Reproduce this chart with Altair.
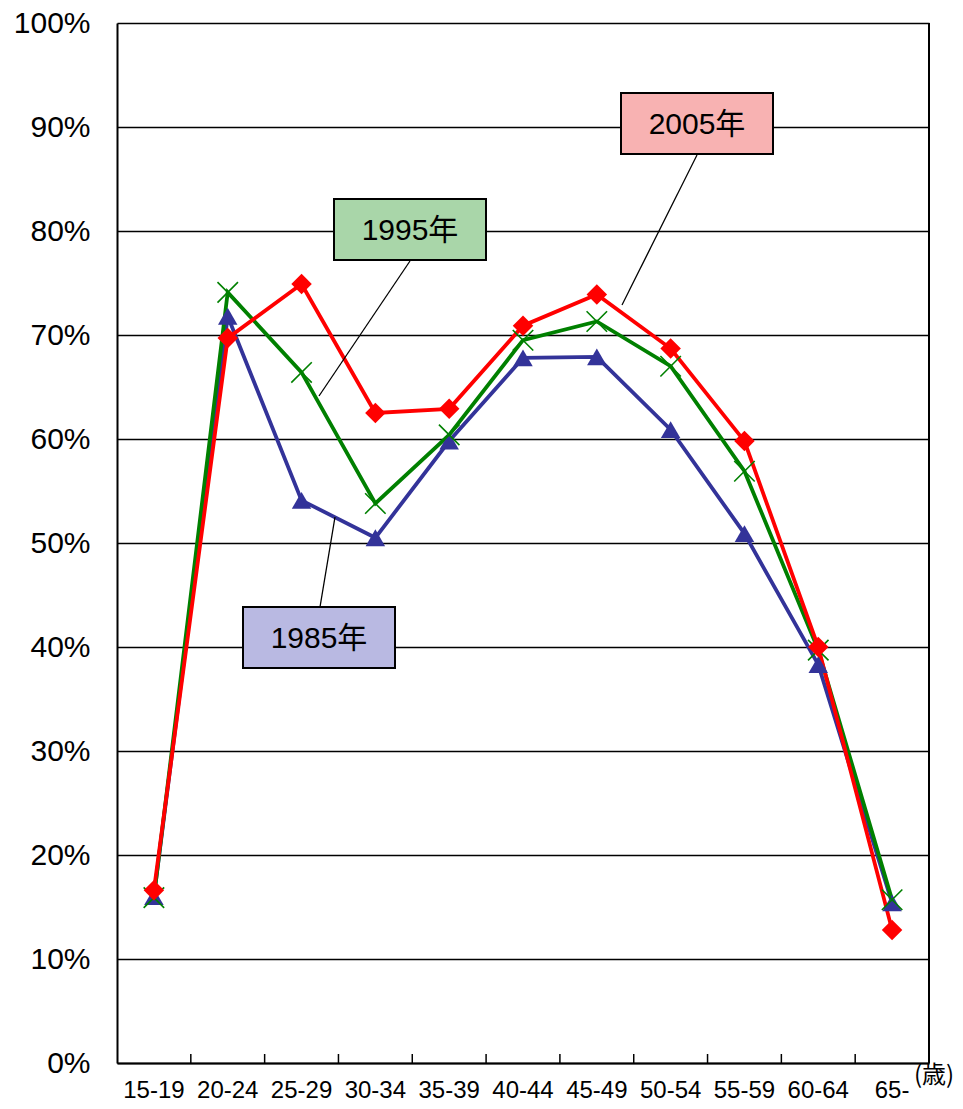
import altair as alt
import pandas as pd

FONT = "Liberation Sans, Arial, Noto Sans CJK JP"

ages = ["15-19", "20-24", "25-29", "30-34", "35-39", "40-44",
        "45-49", "50-54", "55-59", "60-64", "65-"]
years = ["1985年", "1995年", "2005年"]
rate_1985 = [16.0, 71.8, 54.1, 50.5, 59.8, 67.8, 67.9, 60.9, 50.9, 38.3, 15.4]
rate_1995 = [15.9, 74.1, 66.4, 53.8, 60.4, 69.5, 71.3, 67.0, 56.9, 39.7, 15.7]
rate_2005 = [16.6, 69.7, 74.9, 62.5, 62.9, 70.9, 73.9, 68.7, 59.8, 40.0, 12.8]
y_ticks = list(range(0, 101, 10))

rows = []
for yr, vals in zip(years, [rate_1985, rate_1995, rate_2005]):
    for a, v in zip(ages, vals):
        rows.append({"age": a, "year": yr, "rate": v})
df = pd.DataFrame(rows)

xscale = alt.Scale(type="band", domain=ages, paddingInner=0, paddingOuter=0)
xaxis = alt.Axis(title=None, ticks=False, labelFontSize=24, labelFont=FONT,
                 labelColor="black", labelPadding=15, domainColor="black",
                 domainWidth=2, labelAngle=0, grid=False, labelOverlap=False)
yscale = alt.Scale(domain=[0, 100], nice=False)
yaxis = alt.Axis(title=None, values=y_ticks, labelExpr="datum.value + '%'",
                 ticks=False, labelPadding=27, labelFontSize=30, labelFont=FONT,
                 labelColor="black", domainColor="black", domainWidth=2,
                 grid=True, gridColor="black", gridWidth=1.5, gridOpacity=1)

X = alt.X("age:N", scale=xscale, axis=xaxis, sort=ages, bandPosition=0.5)
Y = alt.Y("rate:Q", scale=yscale, axis=yaxis)

colors = {"1985年": "#333399", "1995年": "#008000", "2005年": "#FF0000"}

layers = []
one = pd.DataFrame({"k": [0]})

# x-axis ticks at category boundaries (pointing inward)
tick_df = pd.DataFrame({"age": ages[1:]})
layers.append(
    alt.Chart(tick_df).mark_rule(color="black", strokeWidth=1.5).encode(
        x=alt.X("age:N", scale=xscale, axis=xaxis, sort=ages, bandPosition=0),
        y=alt.value(1031), y2=alt.value(1040))
)
# right frame edge
layers.append(alt.Chart(one).mark_rule(color="black", strokeWidth=2).encode(
    x=alt.value(812), y=alt.value(0), y2=alt.value(1040)))

for yr in years:
    sub = df[df.year == yr]
    c = colors[yr]
    layers.append(alt.Chart(sub).mark_line(color=c, strokeWidth=3.8).encode(x=X, y=Y))

for yr in years:
    sub = df[df.year == yr]
    c = colors[yr]
    if yr == "1985年":
        m = alt.Chart(sub).mark_point(shape="triangle-up", filled=True, color=c,
                                      size=380, opacity=1)
    elif yr == "1995年":
        m = alt.Chart(sub).mark_point(shape="M-1,-1L1,1M-1,1L1,-1", filled=False,
                                      color=c, strokeWidth=1.6, size=420, opacity=1)
    else:
        m = alt.Chart(sub).mark_point(shape="diamond", filled=True, color=c,
                                      size=420, opacity=1)
    layers.append(m.encode(x=X, y=Y))

# leader lines
leaders = [
    (218, 494, 203, 584),   # 1985
    (293, 238, 202, 373),   # 1995
    (580, 132, 505, 282),   # 2005
]
for (x1, y1, x2, y2) in leaders:
    layers.append(alt.Chart(one).mark_rule(color="black", strokeWidth=1.3).encode(
        x=alt.value(x1), y=alt.value(y1), x2=alt.value(x2), y2=alt.value(y2)))

# label boxes
box_fill = {"1985年": "#B9B9E2", "1995年": "#A9D6A9", "2005年": "#F8B2B2"}
boxes = {
    "1985年": (126, 278, 584, 645),
    "1995年": (217, 369, 176, 237),
    "2005年": (504, 656, 70, 131),
}
for yr in years:
    x1, x2, y1, y2 = boxes[yr]
    layers.append(alt.Chart(one).mark_rect(fill=box_fill[yr], stroke="black",
                                           strokeWidth=2).encode(
        x=alt.value(x1), x2=alt.value(x2), y=alt.value(y1), y2=alt.value(y2)))
    layers.append(alt.Chart(pd.DataFrame({"t": [yr]})).mark_text(
        font=FONT, fontSize=30, color="black", align="center",
        baseline="middle").encode(
        text="t:N", x=alt.value((x1 + x2) / 2), y=alt.value((y1 + y2) / 2 + 1)))

# unit label
layers.append(alt.Chart(pd.DataFrame({"t": ["(歳)"]})).mark_text(
    font="Noto Sans CJK JP", fontSize=24, color="black", align="center",
    baseline="middle").encode(text="t:N", x=alt.value(817), y=alt.value(1053)))

chart = alt.layer(*layers).properties(
    width=812, height=1040,
    autosize=alt.AutoSizeParams(type="none"),
    padding={"left": 109, "top": 15, "right": 26, "bottom": 38},
).configure_view(stroke="black", strokeWidth=2).configure(background="white")

chart.save("out.html", embed_options={"renderer": "svg", "actions": False})
